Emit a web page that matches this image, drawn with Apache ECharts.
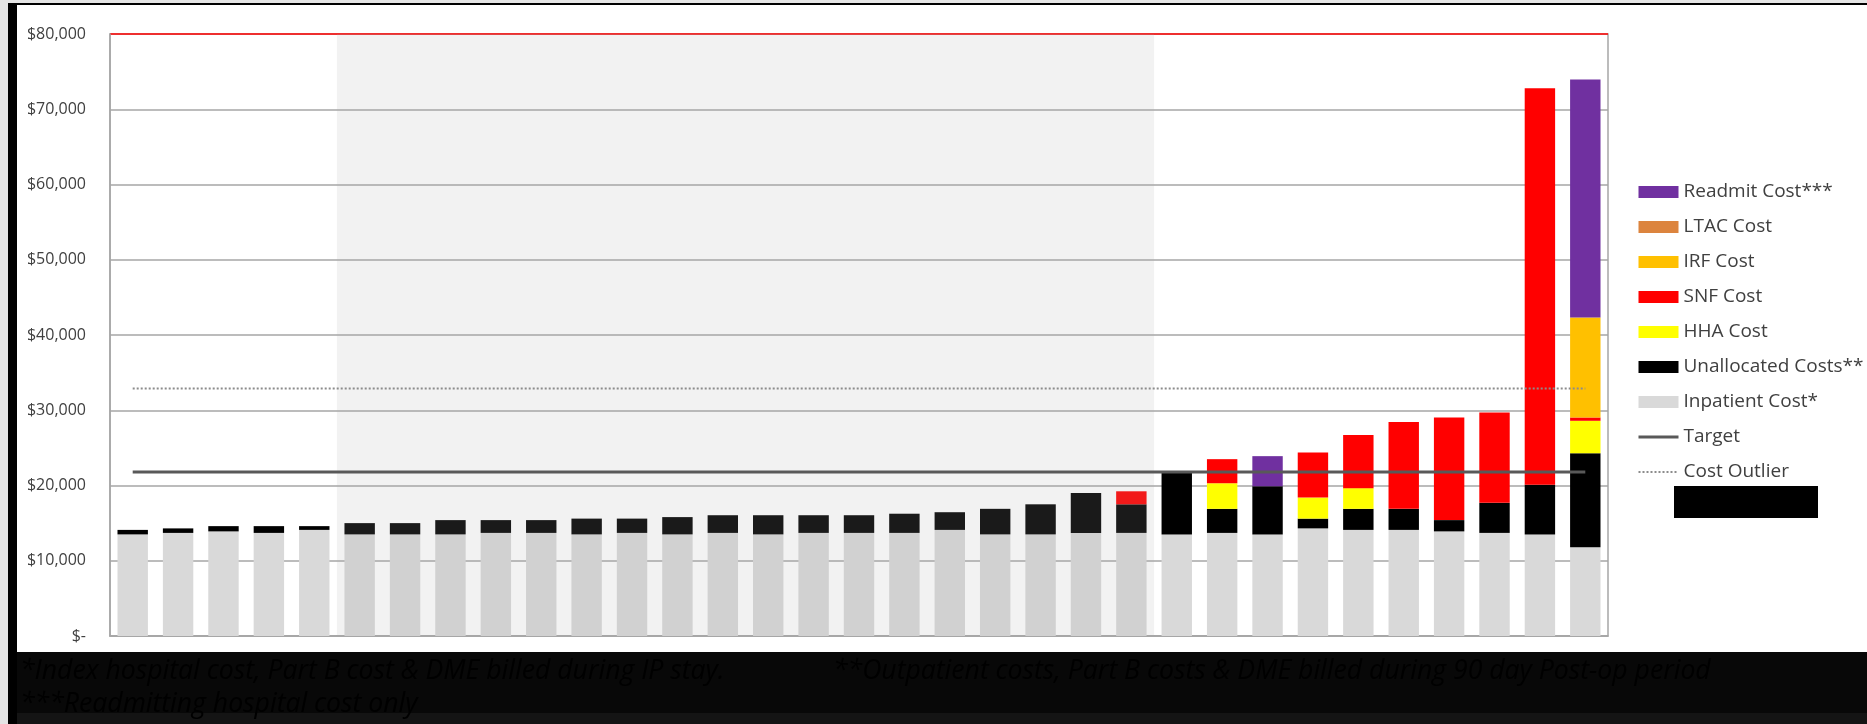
<!DOCTYPE html>
<html>
<head>
<meta charset="utf-8">
<script src="https://cdn.jsdelivr.net/npm/echarts@6/dist/echarts.min.js"></script>
<style>
  html, body { margin: 0; padding: 0; background: #e4e4e4; }
  #chart { width: 1867px; height: 724px; }
</style>
</head>
<body>
<div id="chart"></div>
<script>
// one bar per patient, sorted by total cost
var categories = ['1','2','3','4','5','6','7','8','9','10','11','12','13','14','15','16','17',
                  '18','19','20','21','22','23','24','25','26','27','28','29','30','31','32','33'];

// stacked pieces, bottom to top
var inpatient   = [13500,13700,13900,13700,14100,13500,13500,13500,13700,13700,13500,13700,13500,13700,13500,13700,13700,
                   13700,14100,13500,13500,13700,13700,13500,13700,13500,14300,14100,14100,13900,13700,13500,11800];
var unallocated = [600,600,700,900,500,1500,1500,1900,1700,1700,2100,1900,2300,2350,2550,2350,2350,
                   2550,2350,3400,4000,5300,3800,8200,3200,6400,1300,2800,2800,1500,4000,6600,12500];
var hha         = [0,0,0,0,0,0,0,0,0,0,0,0,0,0,0,0,0,
                   0,0,0,0,0,0,0,3400,0,2800,2750,0,0,0,0,4300];
var snf         = [0,0,0,0,0,0,0,0,0,0,0,0,0,0,0,0,0,
                   0,0,0,0,0,1730,0,3200,0,6000,7050,11530,13650,12000,52700,440];
var irf         = [0,0,0,0,0,0,0,0,0,0,0,0,0,0,0,0,0,
                   0,0,0,0,0,0,0,0,0,0,0,0,0,0,0,13300];
var ltac        = [0,0,0,0,0,0,0,0,0,0,0,0,0,0,0,0,0,
                   0,0,0,0,0,0,0,0,0,0,0,0,0,0,0,0];
var readmit     = [0,0,0,0,0,0,0,0,0,0,0,0,0,0,0,0,0,
                   0,0,0,0,0,0,0,0,4000,0,0,0,0,0,0,31600];

// reference lines
var target_list  = [21800,21800,21800,21800,21800,21800,21800,21800,21800,21800,21800,21800,21800,21800,21800,21800,21800,
                    21800,21800,21800,21800,21800,21800,21800,21800,21800,21800,21800,21800,21800,21800,21800,21800];
var outlier_list = [32900,32900,32900,32900,32900,32900,32900,32900,32900,32900,32900,32900,32900,32900,32900,32900,32900,
                    32900,32900,32900,32900,32900,32900,32900,32900,32900,32900,32900,32900,32900,32900,32900,32900];

// shaded band covers bars 6..23 (positions on a 0..33 scale)
var shade_from = 5;
var shade_to = 23;

var footnote1 = '*Index hospital cost, Part B cost & DME billed during IP stay.';
var footnote2 = '**Outpatient costs, Part B costs & DME billed during 90 day Post-op period';
var footnote3 = '***Readmitting hospital cost only';

var chart = echarts.init(document.getElementById('chart'));

function barSeries(name, data, color){
  return {
    name: name,
    type: 'bar',
    stack: 'cost',
    barWidth: '67%',
    data: data,
    itemStyle: { color: color },
    z: 2
  };
}

var labelFont = 'Open Sans';
var noteFont = 'italic 26.6px "Open Sans"';

chart.setOption({
  backgroundColor: '#e4e4e4',
  animation: false,
  graphic: [
    // white panel + dark frame like the original slide
    { type: 'rect', z: -10, shape: { x: 8, y: 3, width: 1859, height: 721 }, style: { fill: '#000' } },
    { type: 'rect', z: -9, shape: { x: 17, y: 5, width: 1850, height: 647 }, style: { fill: '#fff' } },
    { type: 'rect', z: -9, shape: { x: 17, y: 652, width: 1850, height: 61 }, style: { fill: '#080808' } },
    { type: 'rect', z: -9, shape: { x: 17, y: 713, width: 1850, height: 11 }, style: { fill: '#141414' } },
    { type: 'text', z: 10, x: 20, y: 671, style: { text: footnote1, font: noteFont, fill: '#000', verticalAlign: 'middle' } },
    { type: 'text', z: 10, x: 833, y: 671, style: { text: footnote2, font: noteFont, fill: '#000', verticalAlign: 'middle' } },
    { type: 'text', z: 10, x: 20, y: 704, style: { text: footnote3, font: noteFont, fill: '#000', verticalAlign: 'middle' } },
    // blacked-out box under the legend
    { type: 'rect', z: 10, shape: { x: 1674, y: 486, width: 144, height: 32 }, style: { fill: '#000' } }
  ],
  grid: {
    left: 110, right: 259, top: 34, bottom: 88,
    show: true, borderColor: '#a6a6a6', borderWidth: 1.5, backgroundColor: 'transparent'
  },
  legend: {
    orient: 'vertical',
    left: 1637, top: 182,
    padding: 0,
    itemWidth: 40, itemHeight: 12, itemGap: 15,
    textStyle: { fontFamily: labelFont, fontSize: 19, color: '#404040', lineHeight: 20 },
    data: [
      { name: 'Readmit Cost***', icon: 'rect' },
      { name: 'LTAC Cost', icon: 'rect' },
      { name: 'IRF Cost', icon: 'rect' },
      { name: 'SNF Cost', icon: 'rect' },
      { name: 'HHA Cost', icon: 'rect' },
      { name: 'Unallocated Costs**', icon: 'rect' },
      { name: 'Inpatient Cost*', icon: 'rect' },
      { name: 'Target', itemStyle: { opacity: 0 }, lineStyle: { width: 3 } },
      { name: 'Cost Outlier', itemStyle: { opacity: 0 }, lineStyle: { width: 2 } }
    ]
  },
  xAxis: [{
    type: 'category',
    data: categories,
    axisLine: { lineStyle: { color: '#a6a6a6', width: 1.5 } },
    axisTick: { show: false },
    axisLabel: { show: false }
  }, {
    type: 'value', min: 0, max: 33, show: false
  }],
  yAxis: {
    type: 'value',
    min: 0, max: 80000, interval: 10000,
    axisLine: { show: true, lineStyle: { color: '#a6a6a6', width: 1.5 } },
    axisTick: { show: false },
    axisLabel: {
      margin: 24,
      fontFamily: labelFont, fontSize: 16, color: '#404040',
      formatter: function(v){ return v === 0 ? '$-' : '$' + v.toLocaleString('en-US'); }
    },
    splitLine: {
      lineStyle: {
        width: 1.5,
        color: ['#a6a6a6','#a6a6a6','#a6a6a6','#a6a6a6','#a6a6a6','#a6a6a6','#a6a6a6','#a6a6a6','#ff0000']
      }
    }
  },
  series: [
    barSeries('Inpatient Cost*', inpatient, '#d9d9d9'),
    barSeries('Unallocated Costs**', unallocated, '#000000'),
    barSeries('HHA Cost', hha, '#ffff00'),
    barSeries('SNF Cost', snf, '#ff0000'),
    barSeries('IRF Cost', irf, '#ffc000'),
    barSeries('LTAC Cost', ltac, '#dc843e'),
    barSeries('Readmit Cost***', readmit, '#7030a0'),
    {
      name: 'shade',
      type: 'line',
      xAxisIndex: 1,
      data: [],
      silent: true,
      markArea: {
        silent: true,
        z: 3,
        itemStyle: { color: 'rgba(170,170,170,0.153)' },
        data: [[{ xAxis: shade_from }, { xAxis: shade_to }]]
      }
    },
    {
      name: 'Target',
      type: 'line',
      data: target_list,
      symbol: 'none',
      z: 5,
      lineStyle: { color: '#595959', width: 3 },
      itemStyle: { color: '#595959' }
    },
    {
      name: 'Cost Outlier',
      type: 'line',
      data: outlier_list,
      symbol: 'none',
      z: 5,
      lineStyle: { color: '#8c8c8c', width: 2, type: [2, 2] },
      itemStyle: { color: '#8c8c8c' }
    }
  ]
});
</script>
</body>
</html>
